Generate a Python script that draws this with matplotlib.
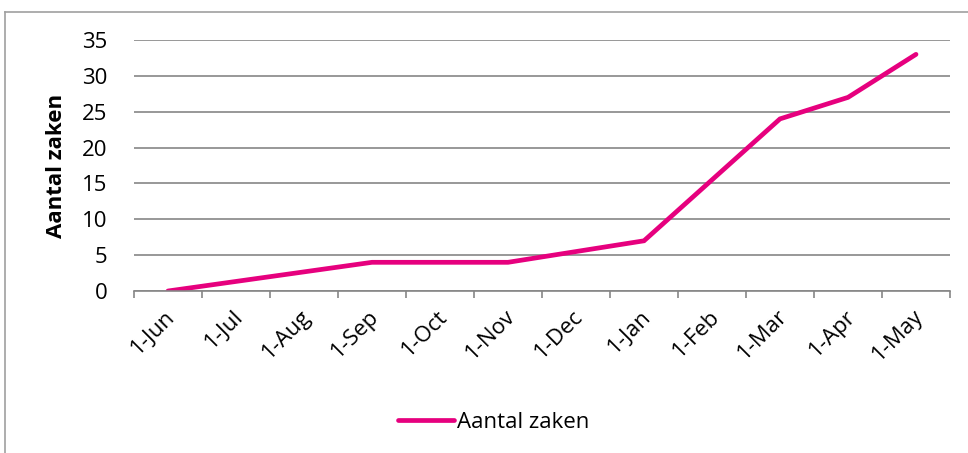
import numpy as np
import matplotlib.pyplot as plt
from matplotlib.lines import Line2D

plt.rcParams['font.family'] = ['Open Sans', 'DejaVu Sans']

months = ['1-Jun', '1-Jul', '1-Aug', '1-Sep', '1-Oct', '1-Nov',
          '1-Dec', '1-Jan', '1-Feb', '1-Mar', '1-Apr', '1-May']
# months that actually have a data point
point_months = ['1-Jun', '1-Sep', '1-Nov', '1-Jan', '1-Mar', '1-Apr', '1-May']
zaken = [0, 4, 4, 7, 24, 27, 33]

pink = '#E6007E'
grid_grey = '#868686'
fs = 16

fig = plt.figure(figsize=(9.68, 4.53), dpi=100)
ax = fig.add_axes([134 / 968, 1 - 291 / 453, 816 / 968, 251 / 453])

x = [months.index(m) + 0.5 for m in point_months]
ax.plot(x, zaken, color=pink, lw=3.4, solid_capstyle='round', solid_joinstyle='miter')

ax.set_xlim(0, len(months))
ax.set_ylim(0, 35)
ax.set_yticks(np.arange(0, 36, 5))
ax.yaxis.grid(True, color=grid_grey, lw=1.2)
ax.set_axisbelow(True)
for s in ('left', 'right', 'top'):
    ax.spines[s].set_visible(False)
ax.spines['bottom'].set_color(grid_grey)
ax.spines['bottom'].set_linewidth(1.2)

ax.set_xticks(np.arange(len(months) + 1))
ax.set_xticklabels([])
ax.tick_params(axis='x', length=5, color=grid_grey, width=1.2, direction='out')
ax.tick_params(axis='y', length=0, pad=19, labelsize=fs)

for i, m in enumerate(months):
    ax.annotate(m, xy=(i + 0.5, 0), xycoords='data', xytext=(3, -16),
                textcoords='offset points', rotation=45, rotation_mode='anchor',
                ha='right', va='center', fontsize=fs)

ax.set_ylabel('Aantal zaken', fontsize=fs, fontweight='bold')
ax.yaxis.set_label_coords(-0.082, 0.5)

handle = Line2D([], [], color=pink, lw=3.4, solid_capstyle='round')
fig.legend([handle], ['Aantal zaken'], loc='center', bbox_to_anchor=(0.51, 1 - 422 / 453),
           frameon=False, fontsize=fs, handlelength=2.5, handletextpad=0.15)

# chart area border
fig.add_artist(Line2D([5 / 968, 5 / 968], [0, 1 - 12 / 453], color='#A0A0A0', lw=1.2,
                      transform=fig.transFigure))
fig.add_artist(Line2D([5 / 968, 1], [1 - 12 / 453, 1 - 12 / 453], color='#A0A0A0', lw=1.2,
                      transform=fig.transFigure))

fig.savefig('out.png', dpi=100)
